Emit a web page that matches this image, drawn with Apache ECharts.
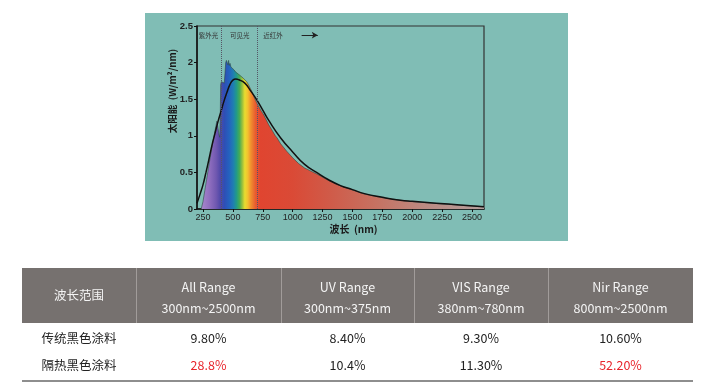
<!DOCTYPE html>
<html><head><meta charset="utf-8">
<script src="https://cdn.jsdelivr.net/npm/echarts@6/dist/echarts.min.js"></script>
<style>html,body{margin:0;padding:0;background:#fff;}#c{width:712px;height:392px;}</style>
</head><body><div id="c"></div>
<script>
// ---- chart data ----
const specWl  = [235,250,265,280,295,310,325,340,352,360,366,372,378,384,390,394,398,404,412,420,428,434,440,446,452,458,464,470,476,484,492,500,510,518,524,540,556,570,585,600,615,630,645,660,680,700,730,760,800,830,855,862,870,900,950,1000,1050,1100,1150,1200,1300,1400,1500,1600,1750,1900,2000,2200,2400,2600];
const specVal = [0,0.1,0.25,0.4,0.55,0.7,0.84,0.98,1.08,1.15,1.2,1.14,1.08,1.02,0.98,1.2,1.7,1.74,1.72,1.75,1.72,1.85,2.0,2.03,2.01,1.97,2.03,1.96,1.99,1.94,1.96,1.93,1.9,1.88,1.87,1.86,1.83,1.82,1.79,1.77,1.74,1.7,1.65,1.6,1.52,1.45,1.36,1.28,1.15,1.07,1.0,0.98,0.97,0.89,0.79,0.7,0.62,0.56,0.52,0.48,0.39,0.315,0.26,0.205,0.155,0.12,0.1,0.075,0.052,0.03];
const bbWl  = [200,225,250,275,300,325,350,375,400,425,450,475,500,525,550,600,650,700,750,800,900,1000,1100,1200,1300,1400,1500,1600,1750,1900,2000,2200,2400,2600];
const bbVal = [0.08,0.2,0.33,0.5,0.68,0.87,1.03,1.19,1.33,1.47,1.59,1.7,1.76,1.775,1.765,1.72,1.61,1.49,1.35,1.21,0.97,0.78,0.61,0.5,0.4,0.32,0.265,0.21,0.16,0.12,0.105,0.08,0.055,0.03];
const xTicks = [250,500,750,1000,1250,1500,1750,2000,2250,2500];
const bandNames = ['紫外光','可见光','近红外'];
const bandCenters = [296,558,836];
const bandEdges = [400,700];
const arrowFrom = 1075, arrowTo = 1210, bandLabelLevel = 2.375;
// ---- table data ----
const tableCorner = '波长范围';
const rangeNames = ['All Range','UV Range','VIS Range','Nir Range'];
const rangeSpans = ['300nm~2500nm','300nm~375nm','380nm~780nm','800nm~2500nm'];
const rowLabels = ['传统黑色涂料','隔热黑色涂料'];
const row1Values = ['9.80%','8.40%','9.30%','10.60%'];
const row2Values = ['28.8%','10.4%','11.30%','52.20%'];

// ---- styling ----
const redCells = {'1-0':true,'1-3':true};
const FONT = "'Noto Sans CJK SC','Noto Sans',sans-serif";
const LAT = "'Liberation Sans','Noto Sans CJK SC',sans-serif";
const wlMin = specWl[0], wlMax = specWl[specWl.length-1];
const colorAt = [[235,'#a888cc'],[300,'#9270c0'],[360,'#7058b0'],[395,'#5048a8'],[430,'#2e4fb6'],[470,'#2463bf'],[505,'#1f80b0'],[530,'#229a88'],[555,'#45ab55'],[580,'#a0c23c'],[600,'#e8dc30'],[625,'#f3c02e'],[650,'#f0902e'],[690,'#e85a30'],[730,'#e04530'],[1000,'#da4a36'],[1300,'#d05a48'],[1700,'#c67262'],[2100,'#bc8a82'],[2600,'#b49e9c']];
const stops = colorAt.map(([w,c]) => ({offset:(w-wlMin)/(wlMax-wlMin), color:c}));

const cols = [22,136,281,414,548,693];
const hTop = 268, hBot = 323, rowY = [338,365], bottomLine = 381;
const g = [];
g.push({type:'rect', shape:{x:145,y:13,width:423,height:228}, style:{fill:'#80bdb5'}, z:-10, silent:true});
g.push({type:'rect', shape:{x:cols[0],y:hTop,width:cols[5]-cols[0],height:hBot-hTop}, style:{fill:'#76716f'}, silent:true});
for (let i=1;i<cols.length-1;i++) g.push({type:'line', shape:{x1:cols[i]+0.5,y1:hTop,x2:cols[i]+0.5,y2:hBot}, style:{stroke:'#a19c9a',lineWidth:1}, silent:true});
g.push({type:'line', shape:{x1:cols[0],y1:bottomLine,x2:cols[5],y2:bottomLine}, style:{stroke:'#8e8e8e',lineWidth:2}, silent:true});
const cx = i => (cols[i]+cols[i+1])/2;
g.push({type:'text', x:cx(0), y:(hTop+hBot)/2, style:{text:tableCorner, fill:'#f4f4f4', font:'12.5px '+FONT, align:'center', verticalAlign:'middle'}, silent:true});
rangeNames.forEach((n,i)=>{
  g.push({type:'text', x:cx(i+1), y:287, style:{text:n, fill:'#f4f4f4', font:'12.5px '+FONT, align:'center', verticalAlign:'middle'}, silent:true});
  g.push({type:'text', x:cx(i+1), y:308, style:{text:rangeSpans[i], fill:'#f4f4f4', font:'12.5px '+FONT, align:'center', verticalAlign:'middle'}, silent:true});
});
[row1Values,row2Values].forEach((vals,r)=>{
  g.push({type:'text', x:cx(0), y:rowY[r], style:{text:rowLabels[r], fill:'#222', font:'12.5px '+FONT, align:'center', verticalAlign:'middle'}, silent:true});
  vals.forEach((v,i)=>{
    g.push({type:'text', x:cx(i+1), y:rowY[r], style:{text:v, fill: redCells[r+'-'+i] ? '#e8242b' : '#222', font:'12.5px '+FONT, align:'center', verticalAlign:'middle'}, silent:true});
  });
});
g.push({type:'text', x:172, y:91, rotation:Math.PI/2, style:{text:'太阳能  (W/m²/nm)', fill:'#1a1a1a', font:'bold 9.5px '+FONT, align:'center', verticalAlign:'middle'}, silent:true});

const chart = echarts.init(document.getElementById('c'), null, {renderer:'canvas'});
chart.setOption({
  animation:false,
  grid:{left:197, right:228, top:26, bottom:183, show:true, borderColor:'#333', borderWidth:1.2, backgroundColor:'transparent'},
  xAxis:{type:'value', min:200, max:2600,
    name:'波长  (nm)', nameLocation:'middle', nameGap:15,
    nameTextStyle:{color:'#1a1a1a', fontSize:10, fontWeight:'bold', fontFamily:FONT, padding:[0,0,0,26]},
    axisLine:{show:true, lineStyle:{color:'#111', width:1.5}},
    axisTick:{show:true, customValues:xTicks, length:3, lineStyle:{color:'#111'}},
    axisLabel:{customValues:xTicks, color:'#222', fontSize:9, fontFamily:LAT, margin:4, formatter:v=>String(v)},
    splitLine:{show:false}},
  yAxis:{type:'value', min:0, max:2.5, interval:0.5,
    axisLine:{show:true, lineStyle:{color:'#111', width:1.5}},
    axisTick:{show:true, length:3, lineStyle:{color:'#111'}},
    axisLabel:{color:'#222', fontSize:9.5, fontWeight:'bold', fontFamily:LAT, margin:4},
    splitLine:{show:false}},
  graphic:g,
  series:[
    {type:'line', data:specWl.map((w,i)=>[w,specVal[i]]), symbol:'none', z:2,
     lineStyle:{color:'#2f4a44', width:0.6},
     areaStyle:{opacity:1, color:new echarts.graphic.LinearGradient(0,0,1,0,stops)},
     markLine:{silent:true, symbol:'none', label:{show:false},
       lineStyle:{type:'dotted', color:'#556', width:1},
       data:[{xAxis:bandEdges[0]},{xAxis:bandEdges[1]},
         [{coord:[arrowFrom,bandLabelLevel], symbol:'none', lineStyle:{type:'solid', color:'#222', width:1}},
          {coord:[arrowTo,bandLabelLevel], symbol:'arrow', symbolSize:[5,6]}]]},
     markPoint:{silent:true, symbol:'circle', symbolSize:0,
       label:{show:true, position:'inside', color:'#333', fontSize:6.5, fontFamily:FONT, formatter:p=>p.name},
       data:bandNames.map((n,i)=>({name:n, coord:[bandCenters[i],bandLabelLevel]}))}},
    {type:'line', data:bbWl.map((w,i)=>[w,bbVal[i]]), symbol:'none', smooth:true, z:3,
     lineStyle:{color:'#111', width:1.5}}
  ]
});
</script></body></html>
